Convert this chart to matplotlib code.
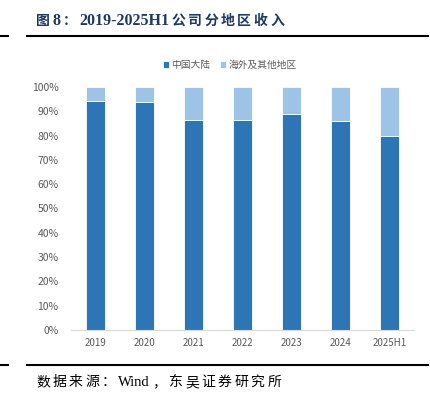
import matplotlib
matplotlib.use("Agg")
import matplotlib.pyplot as plt
from matplotlib.lines import Line2D
from matplotlib.ticker import PercentFormatter

categories = ["2019", "2020", "2021", "2022", "2023", "2024", "2025H1"]
mainland = [94.1, 94.0, 86.6, 86.3, 89.0, 85.9, 80.0]
overseas = [100 - v for v in mainland]
series_names = ["中国大陆", "海外及其他地区"]
yticks = [0, 10, 20, 30, 40, 50, 60, 70, 80, 90, 100]
title_text = "图8：2019-2025H1 公司分地区收入"
source_text = "数据来源：Wind，东吴证券研究所"

plt.rcParams['font.family'] = ['Noto Sans CJK SC', 'DejaVu Sans']

W, H = 431, 393
fig = plt.figure(figsize=(W / 100, H / 100), dpi=100)
ax = fig.add_axes([71 / W, 1 - 330 / H, 343 / W, 243 / H])

c1 = "#2E75B6"
c2 = "#9DC3E6"
x = range(len(categories))
ax.bar(x, mainland, width=0.39, color=c1, edgecolor="white", linewidth=0.6, label=series_names[0])
ax.bar(x, overseas, bottom=mainland, width=0.39, color=c2, edgecolor="white", linewidth=0.6, label=series_names[1])

ax.set_xlim(-0.5, len(categories) - 0.5)
ax.set_ylim(0, 100)
ax.set_yticks(yticks)
ax.yaxis.set_major_formatter(PercentFormatter(decimals=0))
ax.set_xticks(list(x))
ax.set_xticklabels(categories)
for s in ["top", "right", "left"]:
    ax.spines[s].set_visible(False)
ax.spines["bottom"].set_color("#D9D9D9")
ax.spines["bottom"].set_linewidth(0.8)
ax.tick_params(axis="both", length=0, labelsize=7, labelcolor="#595959", pad=6)
ax.tick_params(axis="y", labelsize=7.5, pad=9)

ax.legend(loc="center", bbox_to_anchor=(230 / W, 1 - 65 / H), bbox_transform=fig.transFigure,
          ncol=2, frameon=False, fontsize=7, labelcolor="#595959",
          handlelength=0.6, handleheight=0.6, handletextpad=0.3, columnspacing=1.0)

for yy in [36, 365]:
    fig.add_artist(Line2D([27 / W, 428 / W], [1 - yy / H] * 2, color="black", linewidth=1.5))
    fig.add_artist(Line2D([0, 8 / W], [1 - yy / H] * 2, color="black", linewidth=1.5))

renderer = fig.canvas.get_renderer()


def runs_of(s):
    runs = []
    for ch in s:
        lat = ord(ch) < 0x2000
        if lat and runs and runs[-1][1]:
            runs[-1][0] += ch
        elif lat:
            runs.append([ch, True])
        else:
            runs.append([ch, False])
    return runs


def spaced_text(s, x0, x1, y, cjk_size, latin_size, weight, color, latin_family):
    items = []
    for txt, lat in runs_of(s):
        if lat:
            t = fig.text(0, 1 - y / H, txt.strip(), fontsize=latin_size, fontweight=weight, color=color,
                         ha="left", va="baseline", family=[latin_family, "Noto Sans CJK SC"])
            w = t.get_window_extent(renderer).width
        else:
            t = fig.text(0, 1 - y / H, txt, fontsize=cjk_size, fontweight=weight, color=color,
                         ha="left", va="baseline", family=["Noto Sans CJK SC"])
            w = cjk_size * 100 / 72
        items.append((t, w))
    gap = ((x1 - x0) - sum(w for _, w in items)) / (len(items) - 1)
    pos = x0
    for t, w in items:
        t.set_x(pos / W)
        pos += w + gap


spaced_text(title_text, 36, 284, 25, 10, 11.5, "bold", "#1F3864", "Liberation Serif")
spaced_text(source_text, 36, 281, 386, 10, 10.5, "normal", "black", "Liberation Serif")

fig.savefig("out.png", dpi=100)
